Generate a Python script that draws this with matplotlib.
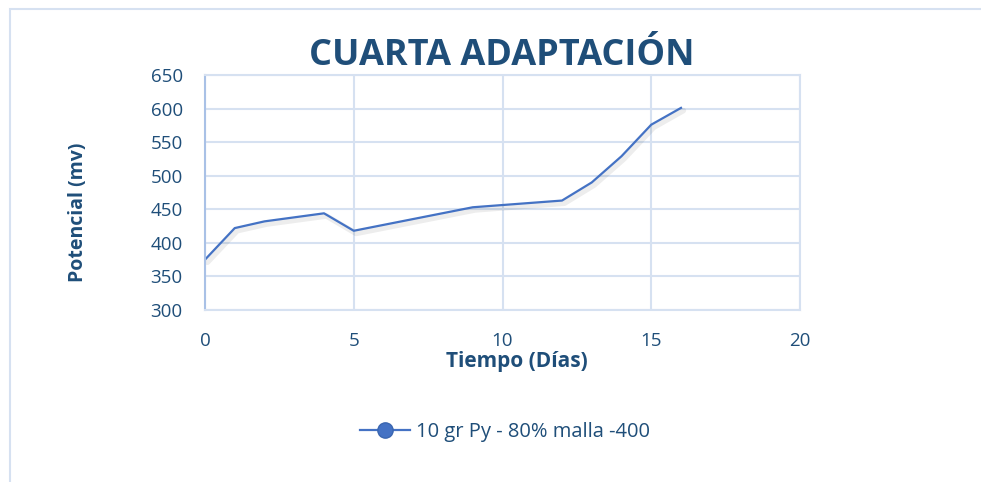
import matplotlib.pyplot as plt
from matplotlib.lines import Line2D
from matplotlib.patches import Rectangle

# values
dias = [0, 1, 2, 4, 5, 9, 12, 13, 14, 15, 16]
potencial = [375, 422, 432, 444, 418, 453, 463, 490, 529, 576, 601]
serie = "10 gr Py - 80% malla -400"

azul = "#4472C4"
texto = "#1F4E79"
rejilla = "#D6E1F1"

plt.rcParams["font.family"] = ["Open Sans", "DejaVu Sans"]

fig = plt.figure(figsize=(9.81, 4.82), dpi=100)
fig.patches.append(Rectangle((10 / 981, -0.1), 1.2, 1 - 9 / 482 + 0.1,
                             transform=fig.transFigure, fill=False,
                             edgecolor=rejilla, lw=1.5))

ax = fig.add_axes([205 / 981, 1 - 310 / 482, 595 / 981, 235 / 482])

# soft shadow under the line
ax.plot([d + 0.08 for d in dias], [p - 4 for p in potencial],
        color="#000000", alpha=0.07, lw=4, solid_capstyle="round")
ax.plot(dias, potencial, color=azul, lw=1.6)

ax.set_xlim(0, 20)
ax.set_ylim(300, 650)
ax.set_xticks(range(0, 21, 5))
ax.set_yticks(range(300, 651, 50))
ax.grid(True, color=rejilla, lw=1.5)
ax.set_axisbelow(True)
for s in ax.spines.values():
    s.set_color(rejilla)
    s.set_linewidth(1.5)
ax.spines["left"].set_color("#A9C1E6")
ax.tick_params(length=0, labelsize=13.5, labelcolor=texto, pad=16)

ax.set_xlabel("Tiempo (Días)", fontsize=15, fontweight="bold", color=texto)
ax.set_ylabel("Potencial (mv)", fontsize=14, fontweight="bold", color=texto)
ax.xaxis.set_label_coords(0.524, -0.176)
ax.yaxis.set_label_coords(-0.196, 0.417)
fig.text(0.511, 1 - 56 / 482, "CUARTA ADAPTACIÓN", ha="center", va="center",
         fontsize=26, fontweight="bold", color=texto)

handle = Line2D([], [], color=azul, lw=1.6, marker="o", markersize=11,
                markerfacecolor=azul, markeredgecolor="#3A66B0")
fig.legend([handle], [serie], loc="center", bbox_to_anchor=(0.515, 1 - 432 / 482),
           frameon=False, fontsize=14.5, labelcolor=texto, handlelength=2.5, handletextpad=0.3)

fig.savefig("out.png", dpi=100, facecolor="white")
